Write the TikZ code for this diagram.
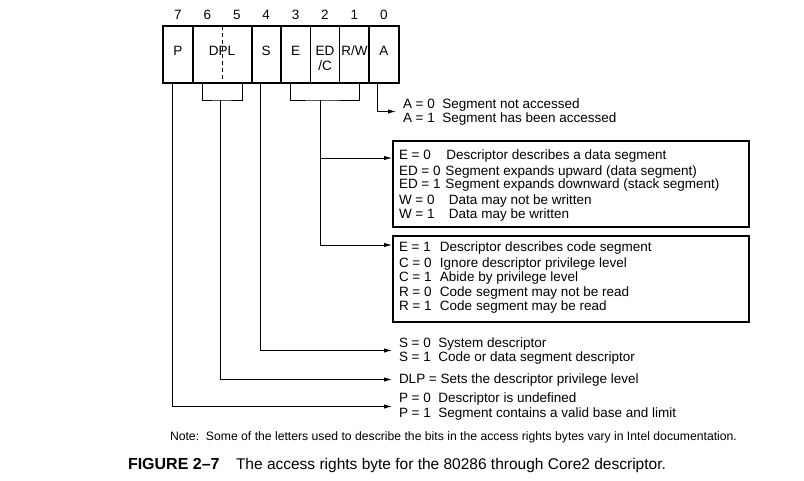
\documentclass[tikz,border=0pt]{standalone}
\usepackage{fontspec}
\setmainfont{Liberation Sans}
\usetikzlibrary{arrows.meta}
\begin{document}
\begin{tikzpicture}[x=1pt,y=-1pt,
  every node/.style={inner sep=0pt,outer sep=0pt},
  body/.style={font=\fontsize{13.5}{15}\selectfont},
  cell/.style={minimum width=29.4pt,minimum height=56.5pt},
  widecell/.style={minimum width=58.8pt,minimum height=56.5pt},
  lbl/.style={body,anchor=mid},
  txt/.style={body,anchor=mid west},
  heavy/.style={line width=2pt},
  light/.style={line width=1.1pt},
  conn/.style={line width=0.9pt},
  tip/.style={-{Latex[length=8pt,width=4.4pt]}},
  infobox/.style={draw,line width=2pt,minimum width=356pt,anchor=north west},
]
\path[use as bounding box] (0,0) rectangle (804,481);

% ---- bit cells
\node[cell] (cP) at (178.0,54.75) {};
\node[widecell] (cDPL) at (222.1,54.75) {};
\node[cell] (cS) at (266.2,54.75) {};
\node[cell] (cE) at (295.6,54.75) {};
\node[cell] (cED) at (325.0,54.75) {};
\node[cell] (cRW) at (354.4,54.75) {};
\node[cell] (cA) at (383.8,54.75) {};

\draw[light] (cE.north east) -- (cE.south east);
\draw[light] (cED.north east) -- (cED.south east);
\draw[heavy] (cP.north east) -- (cP.south east);
\draw[heavy] (cDPL.north east) -- (cDPL.south east);
\draw[heavy] (cS.north east) -- (cS.south east);
\draw[heavy] (cRW.north east) -- (cRW.south east);
\draw[line width=0.8pt,dash pattern=on 4pt off 3pt] (cDPL.north) -- (cDPL.south);
\draw[heavy] (cP.north west) rectangle (cA.south east);

% ---- bit numbers
\node[lbl] (b7) at (cP.center |- 0,17) {7};
\node[lbl] (b6) at (207.4,17) {6};
\node[lbl] (b5) at (236.8,17) {5};
\node[lbl] (b4) at (cS.center |- 0,17) {4};
\node[lbl] (b3) at (cE.center |- 0,17) {3};
\node[lbl] (b2) at (cED.center |- 0,17) {2};
\node[lbl] (b1) at (cRW.center |- 0,17) {1};
\node[lbl] (b0) at (cA.center |- 0,17) {0};

% ---- cell labels
\node[lbl] (tP) at (cP.center |- 0,53) {P};
\node[lbl] (tDPL) at (cDPL.center |- 0,53) {DPL};
\node[lbl] (tS) at (cS.center |- 0,53) {S};
\node[lbl] (tE) at (cE.center |- 0,53) {E};
\node[lbl] (tED) at (cED.center |- 0,53) {ED};
\node[lbl] (tC) at (cED.center |- 0,68) {/C};
\node[lbl] (tRW) at (cRW.center |- 0,53) {R/W};
\node[lbl] (tA) at (cA.center |- 0,53) {A};

% ---- description boxes
\node[infobox,minimum height=86.5pt] (databox) at (393,141) {};
\node[infobox,minimum height=86pt] (codebox) at (393,236.5) {};

% ---- texts
\node[txt] (a0) at (403,105.5) {A = 0\ \ Segment not accessed};
\node[txt] (a1) at (403,120) {A = 1\ \ Segment has been accessed};

\node[txt] (d1) at (399,157.3) {\makebox[47.5pt][l]{E = 0}Descriptor describes a data segment};
\node[txt] (d2) at (399,172.8) {\makebox[46.5pt][l]{ED = 0}Segment expands upward (data segment)};
\node[txt] (d3) at (399,186.3) {\makebox[46.5pt][l]{ED = 1}Segment expands downward (stack segment)};
\node[txt] (d4) at (399,201.8) {\makebox[50pt][l]{W = 0}Data may not be written};
\node[txt] (d5) at (399,215.6) {\makebox[50pt][l]{W = 1}Data may be written};

\node[txt] (k1) at (399,249.3) {\makebox[41pt][l]{E = 1}Descriptor describes code segment};
\node[txt] (k2) at (399,265.3) {\makebox[41pt][l]{C = 0}Ignore descriptor privilege level};
\node[txt] (k3) at (399,278.8) {\makebox[41pt][l]{C = 1}Abide by privilege level};
\node[txt] (k4) at (399,294.3) {\makebox[41pt][l]{R = 0}Code segment may not be read};
\node[txt] (k5) at (399,308.3) {\makebox[41pt][l]{R = 1}Code segment may be read};

\node[txt] (s0) at (399,344.5) {S = 0\ \ System descriptor};
\node[txt] (s1) at (399,358.5) {S = 1\ \ Code or data segment descriptor};
\node[txt] (dl) at (399,380.5) {DLP = Sets the descriptor privilege level};
\node[txt] (p0) at (399,399.5) {P = 0\ \ Descriptor is undefined};
\node[txt] (p1) at (399,415) {P = 1\ \ Segment contains a valid base and limit};

\node[anchor=mid west,font=\fontsize{12.2}{14}\selectfont] (note) at (170,438)
  {Note:\ \ Some of the letters used to describe the bits in the access rights bytes vary in Intel documentation.};
\node[anchor=mid west,font=\bfseries\fontsize{16}{18}\selectfont] (fig) at (128,467) {FIGURE 2--7};
\node[anchor=mid west,font=\fontsize{15.5}{17}\selectfont] (cap) at (236,467)
  {The access rights byte for the 80286 through Core2 descriptor.};

% ---- connectors
\coordinate (pTop) at (172,83);
\coordinate (pTip) at (392,406.5);
\draw[conn,tip] (pTop) |- (pTip);

\coordinate (dplL) at (202.3,83);
\coordinate (dplR) at (242.3,83);
\coordinate (dplStem) at (220.5,100);
\coordinate (dplTip) at (392,379.5);
\draw[conn] (dplL) |- (dplStem) -| (dplR);
\draw[conn,tip] (dplStem) |- (dplTip);

\coordinate (sTop) at (260,83);
\coordinate (sTip) at (392,350.5);
\draw[conn,tip] (sTop) |- (sTip);

\coordinate (eL) at (290,83);
\coordinate (eR) at (359.3,83);
\coordinate (eStem) at (320,100);
\coordinate (dataIn) at (392,158);
\coordinate (codeIn) at (392,245);
\draw[conn] (eL) |- (eStem) -| (eR);
\draw[conn,tip] (eStem) |- (codeIn);
\draw[conn,tip] (eStem |- dataIn) -- (dataIn);

\coordinate (aTop) at (377.7,83);
\coordinate (aTip) at (396,111.5);
\draw[conn,tip] (aTop) |- (aTip);
\end{tikzpicture}
\end{document}
